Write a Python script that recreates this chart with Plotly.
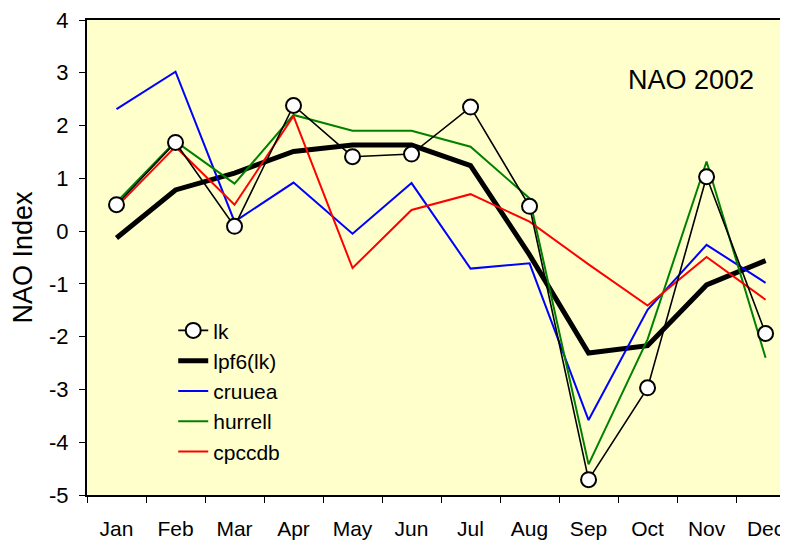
import plotly.graph_objects as go

months = ["Jan", "Feb", "Mar", "Apr", "May", "Jun", "Jul", "Aug", "Sep", "Oct", "Nov", "Dec"]
lk = [0.50, 1.68, 0.09, 2.38, 1.41, 1.46, 2.35, 0.47, -4.71, -2.97, 1.03, -1.94]
lpf6 = [-0.13, 0.78, 1.10, 1.51, 1.63, 1.63, 1.24, -0.45, -2.31, -2.17, -1.02, -0.56]
cruuea = [2.31, 3.02, 0.18, 0.92, -0.05, 0.91, -0.71, -0.61, -3.58, -1.49, -0.26, -0.98]
hurrell = [0.55, 1.70, 0.90, 2.20, 1.90, 1.90, 1.60, 0.62, -4.42, -2.05, 1.32, -2.40]
cpccdb = [0.46, 1.60, 0.50, 2.18, -0.70, 0.40, 0.70, 0.18, -0.63, -1.41, -0.49, -1.30]
y_ticks = [-5, -4, -3, -2, -1, 0, 1, 2, 3, 4]
y_tick_labels = ["-5", "-4", "-3", "-2", "-1", "0", "1", "2", "3", "4"]

FONT = "Liberation Sans, Arial, sans-serif"

fig = go.Figure()
fig.add_trace(go.Scatter(x=months, y=lk, name="lk", mode="lines+markers",
                         line=dict(color="black", width=1.6),
                         marker=dict(symbol="circle", size=15, color="white",
                                     line=dict(color="black", width=2))))
fig.add_trace(go.Scatter(x=months, y=lpf6, name="lpf6(lk)", mode="lines",
                         line=dict(color="black", width=5)))
fig.add_trace(go.Scatter(x=months, y=cruuea, name="cruuea", mode="lines",
                         line=dict(color="#0000ff", width=2)))
fig.add_trace(go.Scatter(x=months, y=hurrell, name="hurrell", mode="lines",
                         line=dict(color="#008000", width=2)))
fig.add_trace(go.Scatter(x=months, y=cpccdb, name="cpccdb", mode="lines",
                         line=dict(color="#ff0000", width=2)))

# Draw lk on top while keeping legend order
for i, t in enumerate(fig.data):
    t.legendrank = i
fig.data = fig.data[1:] + fig.data[:1]

fig.update_layout(
    width=780, height=533,
    margin=dict(l=79, r=0, t=12, b=46, autoexpand=False),
    paper_bgcolor="white",
    plot_bgcolor="#FFFFCC",
    font=dict(family=FONT, color="black", size=22),
    showlegend=True,
    legend=dict(x=0.123, y=0.389, xanchor="left", yanchor="top",
                bgcolor="rgba(0,0,0,0)", borderwidth=0,
                font=dict(size=21, family=FONT), tracegroupgap=0),
    annotations=[dict(text="NAO 2002", x=0.862, y=0.874, xref="paper", yref="paper",
                      xanchor="center", yanchor="middle",
                      showarrow=False, font=dict(size=27, family=FONT))],
)
fig.update_xaxes(type="category", categoryorder="array", categoryarray=months,
                 range=[-0.5, 11.38], tickson="boundaries", automargin=False,
                 ticks="outside", ticklen=6, tickwidth=1, tickcolor="black",
                 showline=True, linecolor="black", linewidth=2, mirror=True,
                 showgrid=False, zeroline=False, tickfont=dict(size=21),
                 ticklabelstandoff=14, ticklabeloverflow="allow")
fig.update_yaxes(range=[-5, 4], tickvals=y_ticks, ticktext=y_tick_labels,
                 automargin=False, ticks="outside", ticklen=6,
                 tickwidth=1, tickcolor="black",
                 showline=True, linecolor="black", linewidth=2, mirror=False,
                 showgrid=False, zeroline=False, tickfont=dict(size=22),
                 ticklabelstandoff=6, ticklabeloverflow="allow",
                 title=dict(text="NAO Index", font=dict(size=27), standoff=12))

fig.write_html("out.html")
